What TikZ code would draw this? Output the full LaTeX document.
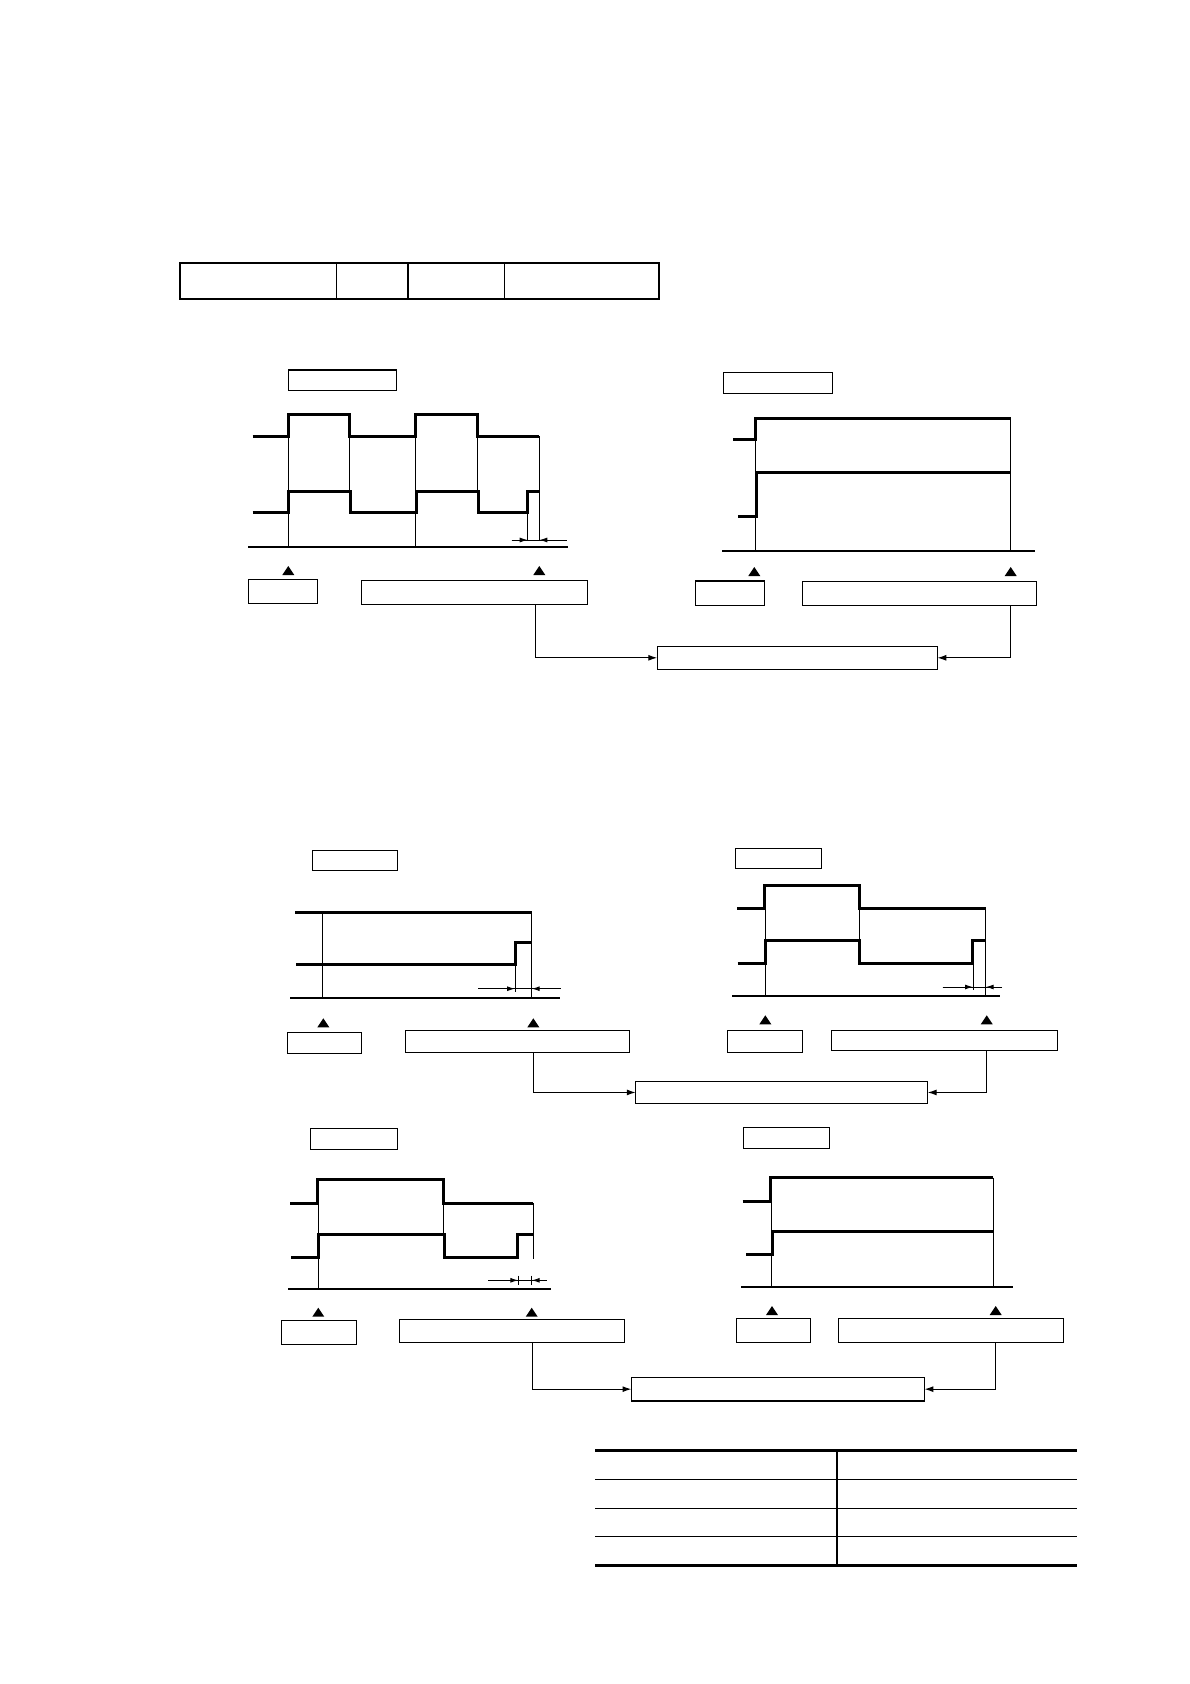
\documentclass[tikz,border=0pt]{standalone}
\usetikzlibrary{fit,arrows.meta}
\newcommand\tmark[2]{\fill (#1-6,#2) -- (#1,#2-9) -- (#1+6,#2) -- cycle;}
\begin{document}
\begin{tikzpicture}[x=1pt,y=-1pt,
  sig/.style={line width=3pt,line join=miter},
  thinl/.style={line width=0.9pt},
  baseln/.style={line width=2pt},
  box/.style={draw,line width=1.2pt,inner sep=0pt,outer sep=0pt},
  cell/.style={draw,line width=1.7pt,inner sep=0pt,outer sep=0pt},
  conn/.style={line width=1.2pt,-{Latex[length=9pt,width=6pt]}},
  dimtip/.style={line width=1pt,-{Latex[length=8pt,width=5pt]}},
  rowln/.style={line width=1.3pt},
  heavyln/.style={line width=3pt}]
\fill[white] (0,0) rectangle (1190,1684);
\useasboundingbox (0,0) rectangle (1190,1684);

% top table
\node[cell,fit={(180,263) (336.5,299)}] (c1) {};
\node[cell,fit={(336.5,263) (408,299)}] (c2) {};
\node[cell,fit={(408,263) (504.5,299)}] (c3) {};
\node[cell,fit={(504.5,263) (659,299)}] (c4) {};

% ---------- panel 1 ----------
\node[box,fit={(288.3,370) (396.3,390.7)}] (t1) {};
\draw[sig] (252.7,436.3) -| (288.3,414) -| (349.3,436.3) -| (415.3,414) -| (477.7,436.3) -- (539.3,436.3);
\draw[sig] (252.7,512.7) -| (288.7,491) -| (350,512.7) -| (416.7,491) -| (478.7,512.7) -| (527.7,491) -- (539.3,491);
\draw[thinl] (288.3,414) -- (288.3,546.7);
\draw[thinl] (349.3,436.3) -- (349.3,491);
\draw[thinl] (415.3,436.3) -- (415.3,546.7);
\draw[thinl] (477.7,436.3) -- (477.7,491);
\draw[thinl] (539.3,436.3) -- (539.3,540);
\draw[thinl] (527.7,491) -- (527.7,540);
\draw[baseln] (248.3,546.7) -- (568.3,546.7);
\draw[thinl] (511.7,540) -- (566.7,540);
\draw[dimtip] (511.7,540) -- (527.7,540);
\draw[dimtip] (566.7,540) -- (539.3,540);
\tmark{288.3}{575}
\tmark{539.3}{575}
\node[box,fit={(248.3,579.3) (317.3,603.3)}] (s1) {};
\node[box,fit={(361.7,580.7) (587.3,604.3)}] (b1) {};

% ---------- panel 2 ----------
\node[box,fit={(723.3,372.3) (832.7,393.3)}] (t2) {};
\draw[sig] (733,439.3) -| (755.7,418.3) -- (1010.7,418.3);
\draw[sig] (738,516) -| (756.7,472.3) -- (1010.7,472.3);
\draw[thinl] (755.7,439.3) -- (755.7,551);
\draw[thinl] (1010.7,418.3) -- (1010.7,551);
\draw[baseln] (722,551) -- (1034.7,551);
\tmark{754.3}{576}
\tmark{1010.7}{576}
\node[box,fit={(695.7,581) (764.3,605.3)}] (s2) {};
\node[box,fit={(802.3,581.3) (1036.5,605.3)}] (b2) {};

\node[box,fit={(657.3,646.3) (937.3,669.3)}] (T1) {};
\coordinate (k1) at (535.3,0);
\coordinate (k2) at (1010.3,0);
\draw[conn] (b1.south -| k1) |- (T1.west);
\draw[conn] (b2.south -| k2) |- (T1.east);

% ---------- panel 3 ----------
\node[box,fit={(312.3,850.3) (397.7,870.3)}] (t3) {};
\draw[sig] (295,912) -- (531.7,912);
\draw[sig] (296,964.3) -| (515,942.7) -- (531.7,942.7);
\draw[thinl] (322.3,912) -- (322.3,997.7);
\draw[thinl] (531.7,912) -- (531.7,997.7);
\draw[thinl] (515,942.7) -- (515,991.7);
\draw[baseln] (290,997.7) -- (560,997.7);
\draw[thinl] (478.3,988.7) -- (560.7,988.7);
\draw[dimtip] (478.3,988.7) -- (515,988.7);
\draw[dimtip] (560.7,988.7) -- (531.7,988.7);
\tmark{323.3}{1027.3}
\tmark{533.3}{1027.3}
\node[box,fit={(287.3,1032.3) (361.7,1053.3)}] (s3) {};
\node[box,fit={(405.3,1030.7) (629.7,1052.3)}] (b3) {};

% ---------- panel 4 ----------
\node[box,fit={(735.3,848.3) (821.7,868.3)}] (t4) {};
\draw[sig] (737,908.3) -| (764.3,885.3) -| (859.3,908.3) -- (985.7,908.3);
\draw[sig] (737.7,963.7) -| (765,940.3) -| (859.3,963.7) -| (972.3,940.3) -- (985.7,940.3);
\draw[thinl] (765,885.3) -- (765,995.7);
\draw[thinl] (859.3,908.3) -- (859.3,940.3);
\draw[thinl] (985.7,908.3) -- (985.7,995.7);
\draw[thinl] (973,940.3) -- (973,989.7);
\draw[baseln] (732,995.7) -- (1000,995.7);
\draw[thinl] (942.7,987) -- (1002,987);
\draw[dimtip] (942.7,987) -- (973,987);
\draw[dimtip] (1002,987) -- (985.7,987);
\tmark{765.3}{1024.3}
\tmark{986.7}{1024.3}
\node[box,fit={(727.3,1030.3) (802.7,1052.3)}] (s4) {};
\node[box,fit={(831.3,1030.3) (1057.7,1050.3)}] (b4) {};

\node[box,fit={(635.8,1081.7) (927.6,1103.2)}] (T2) {};
\coordinate (k3) at (533.3,0);
\coordinate (k4) at (986.3,0);
\draw[conn] (b3.south -| k3) |- (T2.west);
\draw[conn] (b4.south -| k4) |- (T2.east);

% ---------- panel 5 ----------
\node[box,fit={(310.3,1128.3) (397.7,1149.3)}] (t5) {};
\draw[sig] (290,1203) -| (317.3,1179.3) -| (443.3,1203) -- (533.3,1203);
\draw[sig] (291,1257) -| (318.3,1234.3) -| (444.3,1257) -| (517.3,1234.3) -- (533.3,1234.3);
\draw[thinl] (318,1179.3) -- (318,1289);
\draw[thinl] (443.8,1203) -- (443.8,1234.3);
\draw[thinl] (533.3,1203) -- (533.3,1259.3);
\draw[thinl] (518.3,1275.5) -- (518.3,1284.5);
\draw[thinl] (531.7,1275.5) -- (531.7,1284.5);
\draw[baseln] (288,1289) -- (551,1289);
\draw[thinl] (488.3,1280.3) -- (546.7,1280.3);
\draw[dimtip] (488.3,1280.3) -- (518.3,1280.3);
\draw[dimtip] (546.7,1280.3) -- (531.7,1280.3);
\tmark{318.3}{1316.7}
\tmark{531.7}{1316.7}
\node[box,fit={(281.3,1320.3) (356.7,1344.3)}] (s5) {};
\node[box,fit={(399.3,1319.3) (624.7,1342.3)}] (b5) {};

% ---------- panel 6 ----------
\node[box,fit={(743.3,1127.3) (829.7,1148.3)}] (t6) {};
\draw[sig] (742.7,1201.3) -| (770.3,1177.7) -- (993.3,1177.7);
\draw[sig] (746,1254.3) -| (772.7,1231.3) -- (993.3,1231.3);
\draw[thinl] (771.3,1201.3) -- (771.3,1286.7);
\draw[thinl] (993.3,1177.7) -- (993.3,1286.7);
\draw[baseln] (741,1286.7) -- (1012.7,1286.7);
\tmark{772}{1315}
\tmark{995.7}{1315}
\node[box,fit={(736.3,1318.3) (810.7,1342.3)}] (s6) {};
\node[box,fit={(838.3,1318.3) (1063.7,1342.3)}] (b6) {};

\node[box,fit={(631.5,1377.3) (924.4,1401)}] (T3) {};
\coordinate (k5) at (532.3,0);
\coordinate (k6) at (995.3,0);
\draw[conn] (b5.south -| k5) |- (T3.west);
\draw[conn] (b6.south -| k6) |- (T3.east);

% ---------- bottom table ----------
\draw[heavyln] (595,1450.7) -- (1077,1450.7);
\draw[rowln] (595,1479.3) -- (1077,1479.3);
\draw[rowln] (595,1508.3) -- (1077,1508.3);
\draw[rowln] (595,1536.3) -- (1077,1536.3);
\draw[heavyln] (595,1565) -- (1077,1565);
\draw[rowln] (837,1450.7) -- (837,1565);
\end{tikzpicture}
\end{document}
